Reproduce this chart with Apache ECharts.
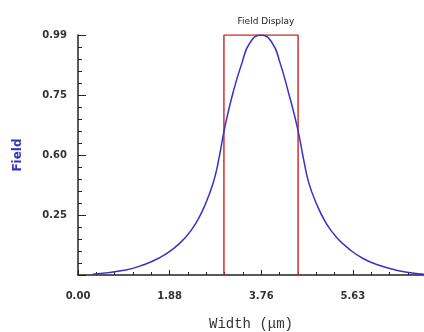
<!DOCTYPE html>
<html>
<head>
<meta charset="utf-8">
<script src="https://cdn.jsdelivr.net/npm/echarts@6/dist/echarts.min.js"></script>
<style>
  html, body { margin: 0; padding: 0; background: #fff; }
  #chart { width: 424px; height: 332px; }
</style>
</head>
<body>
<div id="chart"></div>
<script>
// field profile
const widthVals = [0.30, 0.98, 1.33, 1.66, 1.95, 2.21, 2.42, 2.62, 2.77, 2.87, 3.01, 3.18, 3.36, 3.52, 3.75,
                   3.98, 4.14, 4.31, 4.50, 4.63, 4.73, 4.88, 5.08, 5.29, 5.55, 5.84, 6.17, 6.52, 6.85, 7.09];
const fieldVals = [0.003, 0.021, 0.041, 0.070, 0.108, 0.157, 0.215, 0.297, 0.380, 0.462, 0.611, 0.755, 0.875, 0.957, 0.99,
                   0.957, 0.875, 0.755, 0.604, 0.470, 0.380, 0.297, 0.215, 0.157, 0.108, 0.068, 0.040, 0.020, 0.008, 0.003];

// red display window
const boxLeft = 2.99;
const boxRight = 4.51;
const boxTop = 0.99;

const xTickStep = 1.8775;
const xTickLabels = ['0.00', '1.88', '3.76', '5.63'];
const yTickStep = 0.2475;
const yTickLabels = ['', '0.25', '0.60', '0.75', '0.99'];

const chart = echarts.init(document.getElementById('chart'));

const curve = widthVals.map((x, i) => [x, fieldVals[i]]);
const box = [[boxLeft, 0], [boxLeft, boxTop], [boxRight, boxTop], [boxRight, 0]];

function tickLabel(labels, step) {
    return function (v) {
        const k = Math.round(v / step);
        if (Math.abs(v - k * step) > step * 0.01) return '';
        return labels[k] !== undefined ? labels[k] : '';
    };
}

const labelStyle = {
    color: '#333',
    fontFamily: 'DejaVu Sans',
    fontWeight: 'bold',
    fontSize: 10
};

chart.setOption({
    animation: false,
    title: {
        text: 'Field Display',
        left: 261,
        top: 12,
        textAlign: 'center',
        textStyle: { fontFamily: 'DejaVu Sans', fontSize: 9, fontWeight: 'normal', color: '#222' }
    },
    grid: { left: 78, right: 0, top: 35, bottom: 57, outerBoundsMode: 'none' },
    xAxis: {
        type: 'value',
        min: 0,
        max: 7.09,
        interval: xTickStep,
        name: 'Width (\u03bcm)',
        nameLocation: 'middle',
        nameGap: 42,
        nameTextStyle: { fontFamily: 'Liberation Mono', fontSize: 14, color: '#333' },
        axisLine: { lineStyle: { color: '#222', width: 1.5 } },
        axisTick: { inside: true, length: 5, lineStyle: { color: '#222' } },
        minorTick: { show: true, splitNumber: 5, length: 3, lineStyle: { color: '#222' } },
        splitLine: { show: false },
        axisLabel: Object.assign({ margin: 16, formatter: tickLabel(xTickLabels, xTickStep) }, labelStyle)
    },
    yAxis: {
        type: 'value',
        min: 0,
        max: 0.99,
        interval: yTickStep,
        name: 'Field',
        nameLocation: 'middle',
        nameGap: 54,
        nameTextStyle: { fontFamily: 'DejaVu Sans', fontSize: 12, fontWeight: 'bold', color: '#3333cc' },
        axisLine: { show: true, lineStyle: { color: '#222', width: 1.5 } },
        axisTick: { show: true, inside: true, length: 8, lineStyle: { color: '#222' } },
        minorTick: { show: true, splitNumber: 5, length: 4, lineStyle: { color: '#222' } },
        splitLine: { show: false },
        axisLabel: Object.assign({ margin: 11, formatter: tickLabel(yTickLabels, yTickStep) }, labelStyle)
    },
    series: [
        {
            type: 'line',
            data: box,
            symbol: 'none',
            lineStyle: { color: '#cc3333', width: 1.5 },
            z: 2
        },
        {
            type: 'line',
            data: curve,
            symbol: 'none',
            smooth: 0.5,
            lineStyle: { color: '#3333cc', width: 1.5 },
            z: 3
        }
    ]
});
</script>
</body>
</html>
